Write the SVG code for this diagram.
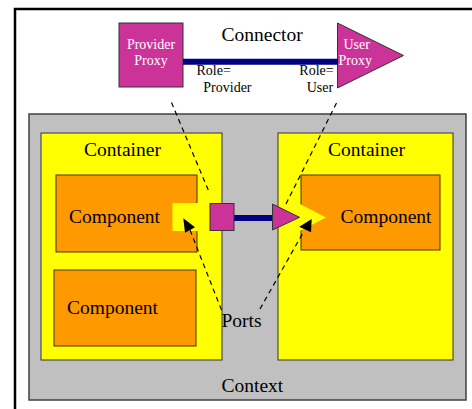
<svg xmlns="http://www.w3.org/2000/svg" width="472" height="409" viewBox="0 0 472 409">
  <style>
    text { font-family: "Liberation Serif", "Times New Roman", serif; fill: #000; }
    .big { font-size: 19.5px; }
    .small { font-size: 14px; }
    .white { fill: #fff; }
    .context { fill: #c0c0c0; stroke: #404040; stroke-width: 1.5; }
    .container { fill: #ffff00; stroke: #333; stroke-width: 1; }
    .component { fill: #ff9900; stroke: #4a3000; stroke-width: 1; }
    .proxy { fill: #cc3399; stroke: #333; stroke-width: 1; }
    .wire { stroke: #000080; stroke-width: 6; fill: none; }
    .dash { stroke: #000; stroke-width: 1.2; stroke-dasharray: 5 4; fill: none; }
    .port { fill: #ffff00; stroke: none; }
  </style>

  <!-- frame -->
  <rect x="15" y="9" width="480" height="430" fill="#fff" stroke="#000" stroke-width="2.5"/>

  <g id="context">
    <rect class="context" x="29" y="114" width="437" height="286"/>
    <text class="big" x="221.5" y="392">Context</text>
  </g>

  <g id="container-left">
    <rect class="container" x="41" y="133" width="181" height="227"/>
    <text class="big" x="84" y="156">Container</text>
  </g>

  <g id="container-right">
    <rect class="container" x="278" y="133" width="175" height="227"/>
    <text class="big" x="328" y="156">Container</text>
  </g>

  <g id="component-left-1">
    <rect class="component" x="56" y="175" width="141" height="77"/>
    <text class="big" x="69" y="223">Component</text>
  </g>

  <g id="component-left-2">
    <rect class="component" x="54" y="270" width="142" height="76"/>
    <text class="big" x="67" y="314">Component</text>
  </g>

  <g id="component-right">
    <rect class="component" x="301" y="175" width="139" height="75"/>
    <text class="big" x="340.5" y="223">Component</text>
  </g>

  <g id="port-left">
    <rect class="port" x="172.5" y="203" width="26" height="28"/>
  </g>

  <g id="port-right">
    <polygon class="port" points="300,204 326,217.5 300,231"/>
  </g>

  <g id="provider-proxy">
    <rect class="proxy" x="119" y="23" width="64" height="64"/>
    <text class="small white" x="151" y="48.5" text-anchor="middle">Provider</text>
    <text class="small white" x="151" y="65" text-anchor="middle">Proxy</text>
  </g>

  <g id="user-proxy">
    <polygon class="proxy" points="337.5,23 403.5,55.5 337.5,88"/>
    <text class="small white" x="343.5" y="48.5">User</text>
    <text class="small white" x="338.5" y="65">Proxy</text>
  </g>

  <g id="connectors">
    <!-- connector between proxies -->
    <line class="wire" x1="183" y1="61.8" x2="338" y2="61.8"/>
    <!-- connector between ports -->
    <line class="wire" x1="221.5" y1="218" x2="274" y2="218"/>
    <rect class="proxy" x="210" y="203.5" width="24" height="27"/>
    <polygon class="proxy" points="272.5,204 299.5,217.3 272.5,230"/>

    <!-- projection lines -->
    <line class="dash" x1="171.5" y1="102.5" x2="209.5" y2="193"/>
    <line class="dash" x1="336.5" y1="103" x2="284.5" y2="207"/>

    <!-- port callouts -->
    <line class="dash" x1="221.5" y1="310" x2="190" y2="230"/>
    <polygon points="183.3,218.3 195,227.3 185,232.7" fill="#000"/>
    <line class="dash" x1="260" y1="309" x2="304" y2="231"/>
    <polygon points="299.3,226.7 311.7,219 311,232.3" fill="#000"/>
  </g>

  <g id="labels">
    <text class="big" x="221.5" y="41">Connector</text>
    <text class="small" x="196.5" y="74.5">Role=</text>
    <text class="small" x="203.3" y="91.7">Provider</text>
    <text class="small" x="299.3" y="74.5">Role=</text>
    <text class="small" x="306.7" y="91.7">User</text>
    <text class="big" x="221.5" y="327">Ports</text>
  </g>
</svg>
